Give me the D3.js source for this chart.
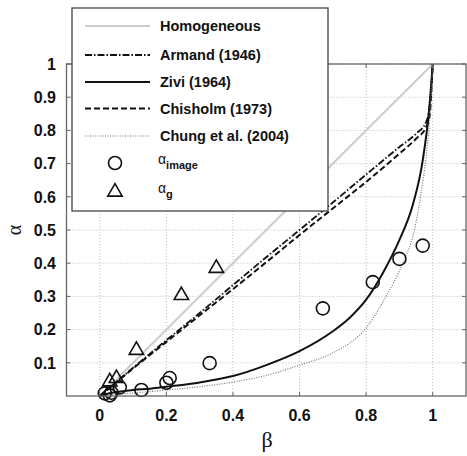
<!DOCTYPE html>
<html><head><meta charset="utf-8">
<script src="https://cdn.jsdelivr.net/npm/d3@7"></script>
<style>body{margin:0;background:#fff}svg{display:block}</style>
</head><body>
<svg id="c" width="467" height="456"></svg>
<script>
// ---- data ----
const xTickVals = [0, 0.2, 0.4, 0.6, 0.8, 1];
const xTickLabels = ["0", "0.2", "0.4", "0.6", "0.8", "1"];
const yTickVals = [0.1, 0.2, 0.3, 0.4, 0.5, 0.6, 0.7, 0.8, 0.9, 1];
const yTickLabels = ["0.1", "0.2", "0.3", "0.4", "0.5", "0.6", "0.7", "0.8", "0.9", "1"];

const homBeta = [0, 1];
const homAlpha = [0, 1];

const armandBeta = [0, 0.1, 0.2, 0.3, 0.4, 0.5, 0.6, 0.7, 0.8, 0.9, 0.95, 0.98, 0.99, 1];
const armandAlpha = [0, 0.085, 0.168, 0.25, 0.334, 0.418, 0.5, 0.583, 0.667, 0.75, 0.79, 0.825, 0.865, 1];

const ziviBeta = [0, 0.02, 0.05, 0.1, 0.15, 0.2, 0.3, 0.4, 0.5, 0.6, 0.7, 0.75, 0.8, 0.85, 0.9, 0.94, 0.97, 0.99, 1];
const ziviAlpha = [0, 0.006, 0.012, 0.018, 0.022, 0.028, 0.041, 0.06, 0.093, 0.135, 0.195, 0.235, 0.29, 0.37, 0.47, 0.575, 0.71, 0.87, 1];

const chisholmBeta = [0, 0.1, 0.2, 0.3, 0.4, 0.5, 0.6, 0.7, 0.8, 0.9, 0.95, 0.98, 0.99, 1];
const chisholmAlpha = [0, 0.083, 0.163, 0.243, 0.322, 0.403, 0.485, 0.565, 0.645, 0.73, 0.775, 0.81, 0.84, 1];

const chungBeta = [0, 0.05, 0.1, 0.2, 0.3, 0.4, 0.5, 0.6, 0.7, 0.8, 0.86, 0.91, 0.945, 0.965, 0.98, 0.99, 1];
const chungAlpha = [0, 0.005, 0.009, 0.018, 0.028, 0.042, 0.062, 0.093, 0.13, 0.205, 0.30, 0.40, 0.50, 0.61, 0.72, 0.82, 1];

const imageBeta = [0.015, 0.03, 0.035, 0.06, 0.125, 0.20, 0.21, 0.33, 0.67, 0.82, 0.90, 0.97];
const imageAlpha = [0.008, 0.002, 0.01, 0.026, 0.018, 0.04, 0.054, 0.099, 0.264, 0.343, 0.413, 0.453];

const gBeta = [0.03, 0.05, 0.11, 0.245, 0.35];
const gAlpha = [0.043, 0.053, 0.138, 0.303, 0.385];

const legendNames = ["Homogeneous", "Armand (1946)", "Zivi (1964)", "Chisholm (1973)", "Chung et al. (2004)"];

// ---- drawing ----
const svg = d3.select("#c");
const L = 66.5, R = 466, T = 64, B = 396;
const x = d3.scaleLinear().domain([-0.1, 1.1]).range([L, R]);
const y = d3.scaleLinear().domain([0, 1]).range([B, T]);
const font = "'Liberation Sans', Arial, sans-serif";

// grid
const g = svg.append("g");
g.selectAll(".gx").data(xTickVals).join("line")
  .attr("x1", d => x(d)).attr("x2", d => x(d)).attr("y1", T).attr("y2", B)
  .attr("stroke", "#bdbdbd").attr("stroke-width", 1).attr("stroke-dasharray", "1,2");
g.selectAll(".gy").data(yTickVals).join("line")
  .attr("y1", d => y(d)).attr("y2", d => y(d)).attr("x1", L).attr("x2", R)
  .attr("stroke", "#bdbdbd").attr("stroke-width", 1).attr("stroke-dasharray", "1,2");

const line = d3.line().x(d => x(d[0])).y(d => y(d[1])).curve(d3.curveMonotoneX);
const zip = (a, b) => a.map((v, i) => [v, b[i]]);

const styles = [
  {stroke: "#cccccc", w: 2, dash: null},
  {stroke: "#111", w: 1.8, dash: "7,2,1.5,2"},
  {stroke: "#111", w: 2, dash: null},
  {stroke: "#111", w: 2, dash: "6,3"},
  {stroke: "#777", w: 1.2, dash: "1,1.5"}
];
const series = [zip(homBeta, homAlpha), zip(armandBeta, armandAlpha), zip(ziviBeta, ziviAlpha),
                zip(chisholmBeta, chisholmAlpha), zip(chungBeta, chungAlpha)];
series.forEach((s, i) => {
  svg.append("path").datum(s).attr("d", line).attr("fill", "none")
    .attr("stroke", styles[i].stroke).attr("stroke-width", styles[i].w)
    .attr("stroke-dasharray", styles[i].dash);
});

// markers
svg.selectAll(".ci").data(zip(imageBeta, imageAlpha)).join("circle")
  .attr("cx", d => x(d[0])).attr("cy", d => y(d[1])).attr("r", 6.5)
  .attr("fill", "none").attr("stroke", "#111").attr("stroke-width", 1.6);
const tri = d3.symbol().type(d3.symbolTriangle).size(90);
svg.selectAll(".tr").data(zip(gBeta, gAlpha)).join("path")
  .attr("d", tri).attr("transform", d => `translate(${x(d[0])},${y(d[1])})`)
  .attr("fill", "none").attr("stroke", "#111").attr("stroke-width", 1.6);

// frame
svg.append("rect").attr("x", L).attr("y", T).attr("width", R - L).attr("height", B - T)
  .attr("fill", "none").attr("stroke", "#666").attr("stroke-width", 1.3);

// ticks (inward)
const tk = 4;
svg.selectAll(".tb").data(xTickVals).join("line")
  .attr("x1", d => x(d)).attr("x2", d => x(d)).attr("y1", B).attr("y2", B - tk).attr("stroke", "#666");
svg.selectAll(".tt").data(xTickVals).join("line")
  .attr("x1", d => x(d)).attr("x2", d => x(d)).attr("y1", T).attr("y2", T + tk).attr("stroke", "#666");
svg.selectAll(".tl").data(yTickVals).join("line")
  .attr("y1", d => y(d)).attr("y2", d => y(d)).attr("x1", L).attr("x2", L + tk).attr("stroke", "#666");
svg.selectAll(".trr").data(yTickVals).join("line")
  .attr("y1", d => y(d)).attr("y2", d => y(d)).attr("x1", R).attr("x2", R - tk).attr("stroke", "#666");

// tick labels
svg.selectAll(".xl").data(xTickVals).join("text")
  .attr("x", d => x(d)).attr("y", 421).attr("text-anchor", "middle")
  .attr("font-family", font).attr("font-weight", "bold").attr("font-size", 16).attr("fill", "#111")
  .text((d, i) => xTickLabels[i]);
svg.selectAll(".yl").data(yTickVals).join("text")
  .attr("x", 56).attr("y", d => y(d)).attr("dy", "0.36em").attr("text-anchor", "end")
  .attr("font-family", font).attr("font-weight", "bold").attr("font-size", 16).attr("fill", "#111")
  .text((d, i) => yTickLabels[i]);

// axis titles
svg.append("text").attr("x", 267).attr("y", 447).attr("text-anchor", "middle")
  .attr("font-family", "'Liberation Serif', serif").attr("font-size", 22).attr("fill", "#111").text("β");
svg.append("text").attr("transform", "translate(21,230) rotate(-90)").attr("text-anchor", "middle")
  .attr("font-family", "'Liberation Serif', serif").attr("font-size", 20).attr("fill", "#111").text("α");

// legend
const lg = svg.append("g");
lg.append("rect").attr("x", 72).attr("y", 8).attr("width", 256).attr("height", 203)
  .attr("fill", "#fff").attr("stroke", "#444").attr("stroke-width", 1.3);
const ly = [26, 55, 82, 108.5, 136];
legendNames.forEach((n, i) => {
  lg.append("line").attr("x1", 85).attr("x2", 150).attr("y1", ly[i]).attr("y2", ly[i])
    .attr("stroke", styles[i].stroke).attr("stroke-width", styles[i].w).attr("stroke-dasharray", styles[i].dash);
  lg.append("text").attr("x", 160).attr("y", ly[i]).attr("dy", "0.36em")
    .attr("font-family", font).attr("font-weight", "bold").attr("font-size", 14.5).attr("fill", "#111").text(n);
});
lg.append("circle").attr("cx", 115).attr("cy", 163).attr("r", 6.5)
  .attr("fill", "none").attr("stroke", "#111").attr("stroke-width", 1.6);
lg.append("path").attr("d", tri).attr("transform", "translate(115,192)")
  .attr("fill", "none").attr("stroke", "#111").attr("stroke-width", 1.6);
const t1 = lg.append("text").attr("x", 158).attr("y", 164).attr("font-family", font).attr("fill", "#111");
t1.append("tspan").attr("font-size", 14).text("α");
t1.append("tspan").attr("font-size", 11).attr("font-weight", "bold").attr("dy", 5).text("image");
const t2 = lg.append("text").attr("x", 158).attr("y", 193).attr("font-family", font).attr("fill", "#111");
t2.append("tspan").attr("font-size", 14).text("α");
t2.append("tspan").attr("font-size", 11).attr("font-weight", "bold").attr("dy", 5).text("g");
</script>
</body></html>
